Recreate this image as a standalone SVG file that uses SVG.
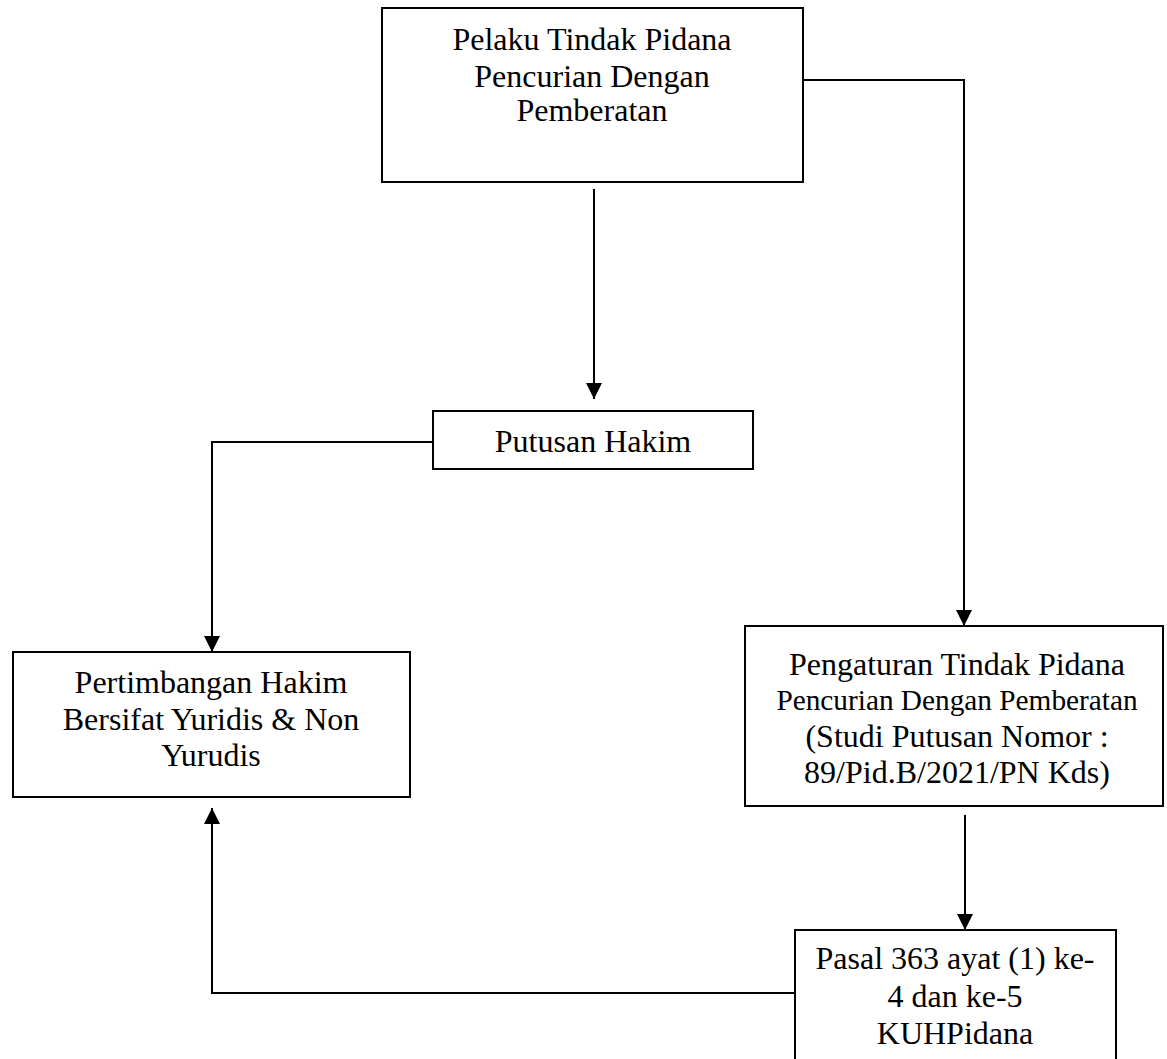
<svg xmlns="http://www.w3.org/2000/svg" width="1167" height="1059" viewBox="0 0 1167 1059">
<style>
.box{fill:#fff;stroke:#000;stroke-width:2}
.t{font-family:"Liberation Serif","Times New Roman",serif;font-size:32px;fill:#000;text-anchor:middle}
.s{font-size:29.3px}
.c{fill:none;stroke:#000;stroke-width:2}
</style>
<defs>
<marker id="ah" markerUnits="userSpaceOnUse" markerWidth="18" markerHeight="18" viewBox="0 -9 18 18" refX="16" refY="0" orient="auto">
<path d="M0,-8 L16,0 L0,8 Z" fill="#000"/>
</marker>
</defs>
<rect width="1167" height="1059" fill="#fff"/>
<g id="connectors">
<path class="c" d="M594,189 V399" marker-end="url(#ah)"/>
<path class="c" d="M433,442 H212 V652" marker-end="url(#ah)"/>
<path class="c" d="M803,80 H964 V626" marker-end="url(#ah)"/>
<path class="c" d="M965,815 V930" marker-end="url(#ah)"/>
<path class="c" d="M795,993 H212 V808" marker-end="url(#ah)"/>
</g>
<g id="node1">
<rect class="box" x="382" y="8" width="421" height="174"/>
<text class="t" x="592" y="50">Pelaku Tindak Pidana</text>
<text class="t" x="592" y="87">Pencurian Dengan</text>
<text class="t" x="592" y="121">Pemberatan</text>
</g>
<g id="node2">
<rect class="box" x="433" y="411" width="320" height="58"/>
<text class="t" x="593" y="452">Putusan Hakim</text>
</g>
<g id="node3">
<rect class="box" x="13" y="652" width="397" height="145"/>
<text class="t" x="211" y="693">Pertimbangan Hakim</text>
<text class="t" x="211" y="730">Bersifat Yuridis &amp; Non</text>
<text class="t" x="211" y="766">Yurudis</text>
</g>
<g id="node4">
<rect class="box" x="745" y="626" width="418" height="180"/>
<text class="t" x="957" y="675">Pengaturan Tindak Pidana</text>
<text class="t s" x="957" y="710">Pencurian Dengan Pemberatan</text>
<text class="t" x="957" y="747">(Studi Putusan Nomor :</text>
<text class="t" x="957" y="783">89/Pid.B/2021/PN Kds)</text>
</g>
<g id="node5">
<rect class="box" x="795" y="930" width="321" height="140"/>
<text class="t" x="955" y="969">Pasal 363 ayat (1) ke-</text>
<text class="t" x="955" y="1007">4 dan ke-5</text>
<text class="t" x="955" y="1044">KUHPidana</text>
</g>
</svg>
